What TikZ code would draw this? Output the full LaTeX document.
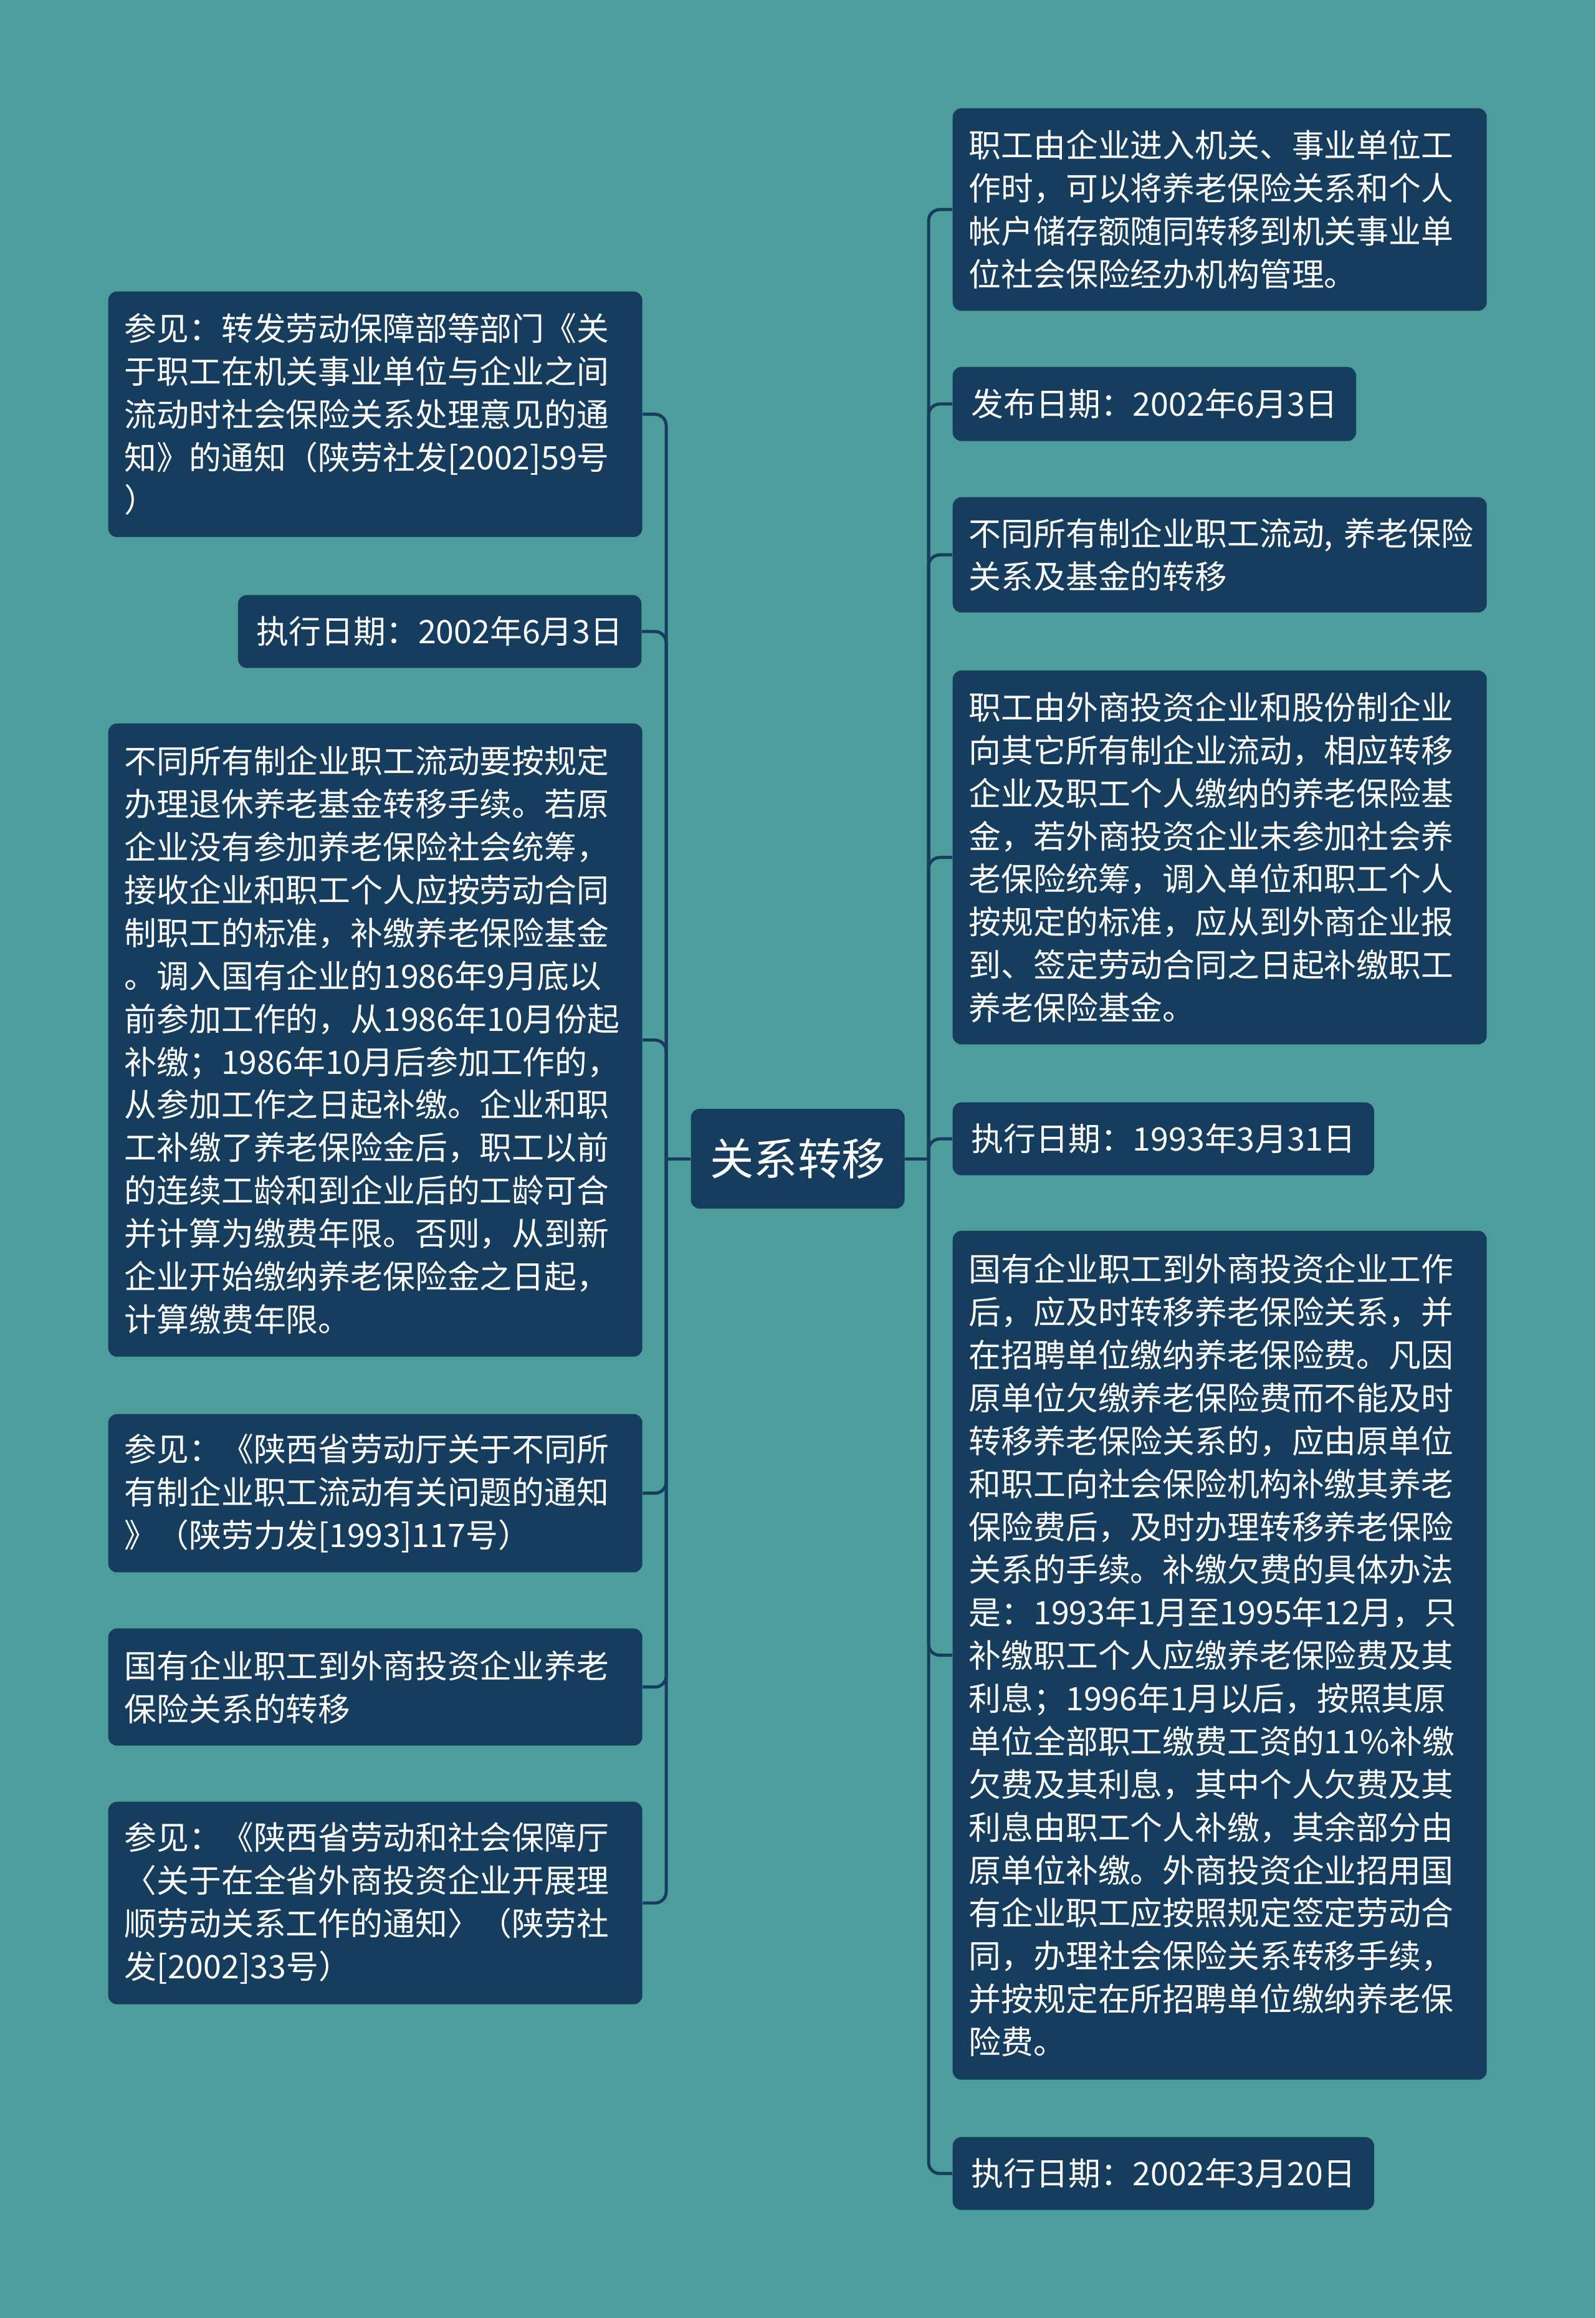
\documentclass[tikz,border=0pt]{standalone}
\usepackage{fontspec}
\setmainfont{Noto Sans CJK SC}
\definecolor{bgteal}{RGB}{78,157,157}
\definecolor{boxnavy}{RGB}{22,61,93}
\tikzset{
    leaf/.style={fill=boxnavy, text=white, rounded corners=0.14cm, align=left,
        inner xsep=0.26cm, inner ysep=0.1cm,
        font=\fontsize{14.75pt}{19.6pt}\selectfont},
    wide/.style={leaf, text width=8.05cm},
    short/.style={leaf, inner xsep=0.3cm, minimum height=1.17cm},
    root/.style={fill=boxnavy, text=white, rounded corners=0.14cm,
        minimum width=3.43cm, minimum height=1.6cm,
        font=\fontsize{20pt}{24pt}\selectfont},
    link/.style={draw=boxnavy, line width=0.05cm, rounded corners=0.18cm}
}
\begin{document}
\begin{tikzpicture}
    \fill[bgteal] (0,0) rectangle (25.6,-37.19);
    \useasboundingbox (0,0) rectangle (25.6,-37.19);

    \node[root] (root) at (12.80,-18.59) {关系转移};

    \node[wide, anchor=north west, minimum height=3.94cm] (l1) at (1.73,-4.67)
        {参见：转发劳动保障部等部门《关\\于职工在机关事业单位与企业之间\\流动时社会保险关系处理意见的通\\知》的通知（陕劳社发[2002]59号\\）};
    \node[short, anchor=north east] (l2) at (10.30,-9.54) {执行日期：2002年6月3日};
    \node[wide, anchor=north west, minimum height=10.16cm] (l3) at (1.73,-11.60)
        {不同所有制企业职工流动要按规定\\办理退休养老基金转移手续。若原\\企业没有参加养老保险社会统筹，\\接收企业和职工个人应按劳动合同\\制职工的标准，补缴养老保险基金\\。调入国有企业的1986年9月底以\\前参加工作的，从1986年10月份起\\补缴；1986年10月后参加工作的，\\从参加工作之日起补缴。企业和职\\工补缴了养老保险金后，职工以前\\的连续工龄和到企业后的工龄可合\\并计算为缴费年限。否则，从到新\\企业开始缴纳养老保险金之日起，\\计算缴费年限。};
    \node[wide, anchor=north west, minimum height=2.54cm] (l4) at (1.73,-22.68)
        {参见：《陕西省劳动厅关于不同所\\有制企业职工流动有关问题的通知\\》（陕劳力发[1993]117号）};
    \node[wide, anchor=north west, minimum height=1.88cm] (l5) at (1.73,-26.12)
        {国有企业职工到外商投资企业养老\\保险关系的转移};
    \node[wide, anchor=north west, minimum height=3.25cm] (l6) at (1.73,-28.90)
        {参见：《陕西省劳动和社会保障厅\\〈关于在全省外商投资企业开展理\\顺劳动关系工作的通知〉（陕劳社\\发[2002]33号）};

    \node[wide, anchor=north west, minimum height=3.25cm] (r1) at (15.28,-1.73)
        {职工由企业进入机关、事业单位工\\作时，可以将养老保险关系和个人\\帐户储存额随同转移到机关事业单\\位社会保险经办机构管理。};
    \node[short, anchor=north west, minimum height=1.19cm] (r2) at (15.28,-5.88) {发布日期：2002年6月3日};
    \node[wide, anchor=north west, minimum height=1.85cm] (r3) at (15.28,-7.97)
        {不同所有制企业职工流动,~养老保险\\关系及基金的转移};
    \node[wide, anchor=north west, minimum height=6.00cm] (r4) at (15.28,-10.75)
        {职工由外商投资企业和股份制企业\\向其它所有制企业流动，相应转移\\企业及职工个人缴纳的养老保险基\\金，若外商投资企业未参加社会养\\老保险统筹，调入单位和职工个人\\按规定的标准，应从到外商企业报\\到、签定劳动合同之日起补缴职工\\养老保险基金。};
    \node[short, anchor=north west] (r5) at (15.28,-17.68) {执行日期：1993年3月31日};
    \node[wide, anchor=north west, minimum height=13.62cm] (r6) at (15.28,-19.74)
        {国有企业职工到外商投资企业工作\\后，应及时转移养老保险关系，并\\在招聘单位缴纳养老保险费。凡因\\原单位欠缴养老保险费而不能及时\\转移养老保险关系的，应由原单位\\和职工向社会保险机构补缴其养老\\保险费后，及时办理转移养老保险\\关系的手续。补缴欠费的具体办法\\是：1993年1月至1995年12月，只\\补缴职工个人应缴养老保险费及其\\利息；1996年1月以后，按照其原\\单位全部职工缴费工资的11\%补缴\\欠费及其利息，其中个人欠费及其\\利息由职工个人补缴，其余部分由\\原单位补缴。外商投资企业招用国\\有企业职工应按照规定签定劳动合\\同，办理社会保险关系转移手续，\\并按规定在所招聘单位缴纳养老保\\险费。};
    \node[short, anchor=north west] (r7) at (15.28,-34.28) {执行日期：2002年3月20日};

    \coordinate (lt) at (10.69,-18.59);
    \coordinate (rt) at (14.90,-18.59);
    \draw[link] (root.west) -- (lt);
    \draw[link] (root.east) -- (rt);
    \draw[link] (lt) |- (l1.east);
    \draw[link] (lt) |- (l2.east);
    \draw[link] (lt) |- (l3.east);
    \draw[link] (lt) |- (l4.east);
    \draw[link] (lt) |- (l5.east);
    \draw[link] (lt) |- (l6.east);
    \draw[link] (rt) |- (r1.west);
    \draw[link] (rt) |- (r2.west);
    \draw[link] (rt) |- (r3.west);
    \draw[link] (rt) |- (r4.west);
    \draw[link] (rt) |- (r5.west);
    \draw[link] (rt) |- (r6.west);
    \draw[link] (rt) |- (r7.west);
\end{tikzpicture}
\end{document}
